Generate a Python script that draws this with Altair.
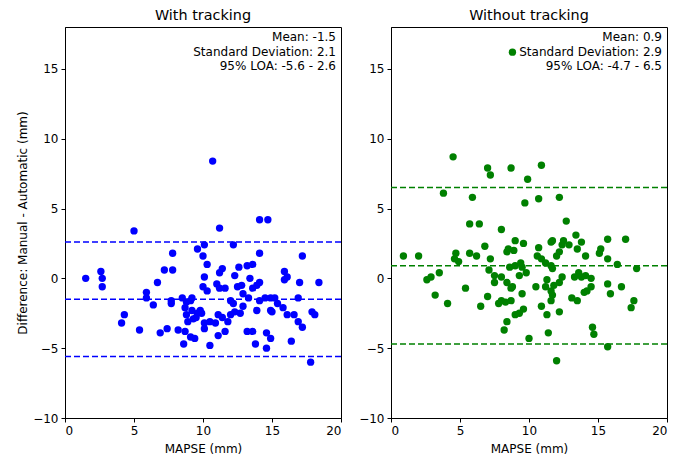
import altair as alt
import pandas as pd

# ---- data ----
blue_x = [1.5, 2.6, 2.7, 2.7, 4.1, 4.3, 5.0, 5.4, 5.9, 5.9, 6.4, 6.7, 6.9, 7.4, 7.2, 7.8, 7.8, 7.7, 7.7, 8.2,
          8.7, 8.6, 9.1, 9.4, 8.5, 8.8, 9.1, 8.7, 8.8, 8.9, 9.3, 9.6, 9.2, 9.6, 10.1, 10.7, 11.2, 12.2, 10.0, 10.3,
          14.1, 14.7, 14.1, 17.2, 11.4, 11.2, 12.3, 12.6, 13.2, 13.6, 15.9, 16.1, 15.9, 17.0, 18.4, 10.1, 13.4, 10.0, 10.3, 11.0,
          11.2, 11.6, 12.5, 12.8, 12.9, 13.3, 13.6, 13.9, 14.1, 14.1, 14.5, 14.9, 15.2, 15.4, 15.8, 16.1, 16.9, 16.9, 17.2, 17.9,
          18.1, 17.8, 16.4, 14.9, 14.6, 14.6, 13.8, 13.6, 13.2, 13.9, 14.9, 15.0, 12.9, 12.7, 12.3, 12.0, 11.8, 11.6, 11.1, 10.5,
          10.1, 10.1, 10.5, 10.9, 11.1, 11.4, 9.5, 9.9, 9.8, 9.2, 12.0, 12.2, 16.6]
blue_y = [0.0, 0.5, 0.0, -0.6, -3.2, -2.6, 3.4, -3.7, -1.0, -1.4, -1.9, -0.3, -3.9, -3.6, 0.6, 0.6, 1.8, -1.6, -1.8, -3.7,
          -3.8, -4.7, -4.2, -4.3, -1.4, -1.7, -1.6, -2.1, -2.6, -3.1, -2.9, -2.5, -2.3, 2.1, 2.4, 8.4, 3.6, 2.4, 1.6, 1.0,
          4.2, 4.2, 1.8, 1.6, 0.7, 0.4, 0.2, 0.8, 0.9, 1.0, 0.5, 0.1, -0.1, -0.3, -0.3, 0.1, 0.0, -0.6, -0.9, -0.4,
          -0.7, -0.7, -0.6, -0.5, -1.1, -1.4, -0.7, -0.5, -0.3, -1.6, -1.4, -1.4, -1.4, -1.8, -2.1, -2.6, -1.4, -3.1, -3.5, -2.4,
          -2.6, -6.0, -4.5, -4.3, -5.0, -3.9, -4.7, -3.8, -3.8, -2.3, -2.3, -2.4, -2.0, -2.5, -2.4, -2.6, -3.1, -3.8, -4.1, -4.8,
          -3.6, -3.2, -3.1, -3.2, -2.6, -2.8, -2.8, -2.5, -2.3, -1.4, -1.6, -1.8, -2.6]

green_x = [0.9, 2.0, 2.6, 2.9, 3.5, 3.2, 3.8, 4.1, 4.5, 4.6, 4.7, 4.9, 5.4, 5.7, 5.7, 5.9, 6.2, 6.4, 6.5, 6.8,
           7.0, 7.0, 7.1, 7.2, 7.2, 7.5, 7.5, 7.8, 8.0, 8.0, 8.0, 8.2, 8.3, 8.4, 8.4, 8.4, 8.5, 8.6, 8.7, 8.7,
           8.7, 8.8, 8.8, 8.9, 9.0, 9.0, 9.0, 9.3, 9.3, 9.4, 9.5, 9.5, 9.6, 9.6, 9.7, 9.8, 9.9, 10.0, 10.5, 10.6,
           10.7, 10.7, 10.9, 10.9, 10.9, 11.2, 11.2, 11.3, 11.3, 11.4, 11.6, 11.6, 11.6, 11.6, 11.7, 11.7, 11.7, 11.8, 12.0, 12.0,
           12.2, 12.2, 12.2, 12.2, 12.4, 12.4, 12.5, 12.7, 12.9, 13.1, 13.3, 13.4, 13.5, 13.5, 13.6, 13.8, 13.8, 14.0, 14.1, 14.1,
           14.2, 14.5, 14.5, 14.6, 14.7, 15.1, 15.2, 15.7, 15.7, 15.7, 15.7, 15.9, 16.4, 16.7, 17.0, 17.4, 17.6, 17.8]
green_y = [1.6, 1.6, -0.1, 0.1, 0.4, -1.2, 6.1, -1.8, 8.7, 1.4, 1.8, 1.2, -0.7, 3.9, 1.8, 5.8, 1.6, 3.9, -2.0, 2.3,
           7.9, -1.3, 0.6, 7.4, 1.4, 0.2, -0.3, -1.8, 3.5, 0.1, -1.6, -3.7, -1.7, 1.9, -0.3, -3.1, 2.1, 0.8, 7.9, -0.7,
           -1.6, 16.2, -0.6, 2.0, 2.7, 0.9, -2.6, 0.2, -2.5, 1.1, -1.1, 0.8, 2.5, -2.2, 5.4, 0.4, 7.1, -4.3, -0.6, 1.6,
           2.2, 5.7, 8.1, 1.4, -2.0, 1.1, -0.6, -0.1, -2.6, -3.9, 2.6, 0.9, -0.9, -1.6, 2.7, 0.7, -1.2, -0.5, 1.6, -5.9,
           5.8, 1.9, -0.3, -2.4, 2.4, 0.1, 2.7, 4.1, 2.4, -1.4, 0.1, 3.1, 2.1, -1.6, 0.4, 2.6, 0.1, -1.0, 1.6, 0.2,
           -0.9, 0.0, -0.6, -3.5, -4.0, 1.8, 2.1, 2.8, 1.4, -0.4, -4.9, -1.1, 1.0, -0.6, 2.8, -2.1, -1.6, 0.7]

titles = ["With tracking", "Without tracking"]
means = [-1.5, 0.9]
sds = [2.1, 2.9]
loa_low = [-5.6, -4.7]
loa_high = [2.6, 6.5]
colors = ["#0000ff", "#008000"]
x_ticks = [0, 5, 10, 15, 20]
y_ticks = [-10, -5, 0, 5, 10, 15]

W, H = 276, 391
FONT = "DejaVu Sans"


def panel(xs, ys, i):
    df = pd.DataFrame({"x": xs, "y": ys})
    yaxis = alt.Axis(values=y_ticks, title="Difference: Manual - Automatic (mm)", titlePadding=3) if i == 0 \
        else alt.Axis(values=y_ticks, title=None)
    pts = alt.Chart(df).mark_circle(size=54, opacity=1, color=colors[i]).encode(
        x=alt.X("x:Q", scale=alt.Scale(domain=[0, 20], nice=False),
                axis=alt.Axis(values=x_ticks, title="MAPSE (mm)", titlePadding=7)),
        y=alt.Y("y:Q", scale=alt.Scale(domain=[-10, 18], nice=False, zero=False), axis=yaxis),
    )
    lines_df = pd.DataFrame({"v": [means[i], loa_low[i], loa_high[i]]})
    rules = alt.Chart(lines_df).mark_rule(strokeDash=[6, 3], strokeWidth=1.5, color=colors[i]).encode(
        y="v:Q"
    )
    txt_lines = [f"Mean: {means[i]}", f"Standard Deviation: {sds[i]}",
                 f"95% LOA: {loa_low[i]} - {loa_high[i]}"]
    txt = alt.Chart(pd.DataFrame({"k": [0]})).mark_text(
        align="right", baseline="top", fontSize=12, lineHeight=14.5, font=FONT, color="black"
    ).encode(x=alt.value(W - 5), y=alt.value(5), text=alt.value(txt_lines))
    return alt.layer(pts, rules, txt).properties(
        width=W, height=H,
        title=alt.TitleParams(titles[i], fontSize=14.4, fontWeight="normal", font=FONT, color="black", offset=4),
    )


chart = alt.hconcat(panel(blue_x, blue_y, 0), panel(green_x, green_y, 1), spacing=15).properties(
    padding={"left": 8, "top": -1, "right": 0, "bottom": 0}
).configure_axis(
    labelFont=FONT, titleFont=FONT, labelFontSize=12, titleFontSize=12,
    labelColor="black", titleColor="black", tickColor="black", domainColor="black",
    grid=False, tickSize=4, labelPadding=3, titlePadding=5, titleFontWeight="normal",
).configure_view(stroke="black", strokeWidth=1)

chart.save("out.html", embed_options={"renderer": "svg", "actions": False})
